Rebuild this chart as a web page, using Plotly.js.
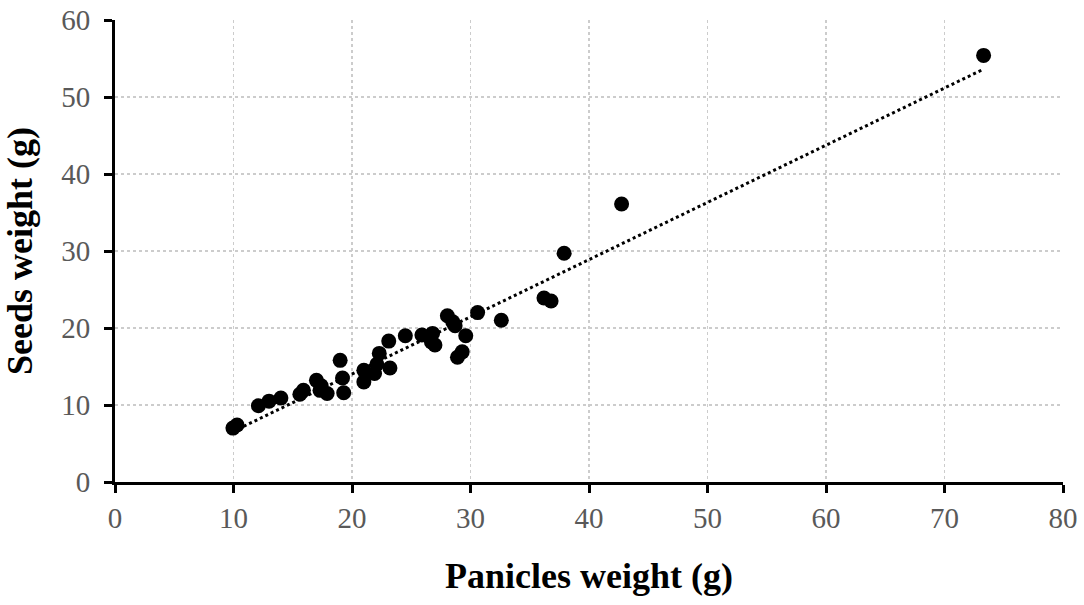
<!DOCTYPE html>
<html lang="en">
  <head>
    <meta charset="UTF-8" />
    <title>Seeds vs panicles weight</title>
    <script src="https://cdn.plot.ly/plotly-3.0.1.min.js"></script>
    <style>
      * {
        margin: 0;
        padding: 0;
      }
      html,
      body {
        background: #ffffff;
      }
      #chart {
        width: 1084px;
        height: 605px;
      }
    </style>
  </head>
  <body>
    <div id="chart"></div>

    <script>
      // values
      const paniclesWeight = [
        73.3, 42.75, 37.9, 36.2, 36.8, 32.6, 30.6, 28.05, 28.5, 28.7, 29.6,
        29.3, 28.9, 27.0, 26.7, 26.8, 25.9, 24.5, 23.1, 23.2, 22.3, 22.1, 21.9,
        21.0, 21.0, 19.0, 19.2, 19.3, 17.0, 17.4, 17.3, 17.9, 15.9, 15.6, 14.0,
        13.0, 12.1, 10.3, 9.95,
      ];
      const seedsWeight = [
        55.4, 36.1, 29.7, 23.9, 23.5, 21.0, 22.0, 21.6, 20.8, 20.3, 19.0, 16.9,
        16.2, 17.8, 18.2, 19.3, 19.1, 19.0, 18.3, 14.8, 16.7, 15.3, 14.1, 14.5,
        13.0, 15.8, 13.5, 11.6, 13.2, 12.5, 11.9, 11.5, 11.9, 11.4, 10.9, 10.5,
        9.9, 7.4, 7.0,
      ];
      const xTicks = [0, 10, 20, 30, 40, 50, 60, 70, 80];
      const yTicks = [0, 10, 20, 30, 40, 50, 60];

      // linear trendline (least squares), over the data range
      const n = paniclesWeight.length;
      let sx = 0, sy = 0, sxx = 0, sxy = 0;
      for (let i = 0; i < n; i++) {
        sx += paniclesWeight[i];
        sy += seedsWeight[i];
        sxx += paniclesWeight[i] * paniclesWeight[i];
        sxy += paniclesWeight[i] * seedsWeight[i];
      }
      const slope = (n * sxy - sx * sy) / (n * sxx - sx * sx);
      const intercept = (sy - slope * sx) / n;
      const xMin = Math.min(...paniclesWeight);
      const xMax = Math.max(...paniclesWeight);

      const points = {
        x: paniclesWeight,
        y: seedsWeight,
        type: "scatter",
        mode: "markers",
        marker: { color: "#000000", size: 15 },
        hoverinfo: "x+y",
      };

      const trend = {
        x: [xMin, xMax],
        y: [intercept + slope * xMin, intercept + slope * xMax],
        type: "scatter",
        mode: "lines",
        line: { color: "#000000", width: 3, dash: "dot" },
        hoverinfo: "skip",
      };

      const tickFont = {
        family: "Liberation Serif, Times New Roman, serif",
        size: 29,
        color: "#595959",
      };
      const titleFont = {
        family: "Liberation Serif, Times New Roman, serif",
        size: 36,
        color: "#000000",
        weight: "bold",
      };

      const axisBase = {
        tickfont: tickFont,
        showline: true,
        linecolor: "#000000",
        linewidth: 3,
        ticks: "outside",
        ticklen: 8,
        tickwidth: 3,
        tickcolor: "#000000",
        showgrid: true,
        gridcolor: "#cccccc",
        gridwidth: 1.5,
        griddash: "dot",
        zeroline: false,
      };

      const layout = {
        width: 1084,
        height: 605,
        margin: { l: 115, r: 21, t: 20, b: 123 },
        paper_bgcolor: "#ffffff",
        plot_bgcolor: "#ffffff",
        showlegend: false,
        xaxis: {
          ...axisBase,
          range: [0, 80],
          tickvals: xTicks,
          title: { text: "<b>Panicles weight (g)</b>", font: titleFont, standoff: 31 },
        },
        yaxis: {
          ...axisBase,
          range: [0, 60],
          tickvals: yTicks,
          ticklabelstandoff: 8,
          title: { text: "<b>Seeds weight (g)</b>", font: titleFont, standoff: 28 },
        },
      };

      Plotly.newPlot("chart", [trend, points], layout, {
        displayModeBar: false,
        staticPlot: true,
      });
    </script>
  </body>
</html>
